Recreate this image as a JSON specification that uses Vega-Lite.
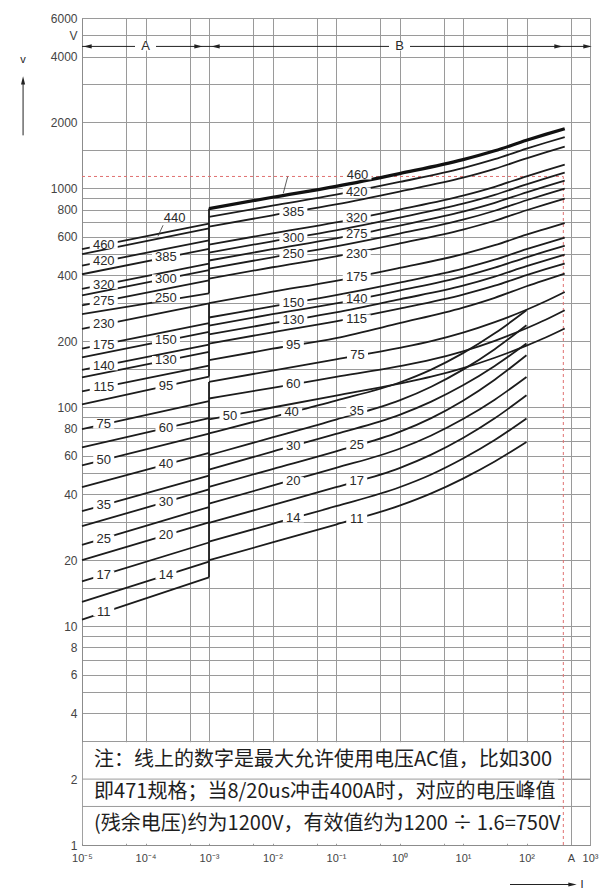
{
"$schema": "https://vega.github.io/schema/vega-lite/v6.json",
"width": 508, "height": 827,
"autosize": {"type": "none"},
"padding": {"left": 82, "top": 18, "right": 21, "bottom": 46},
"background": "white",
"config": {"view": {"stroke": "#8c8c8c", "strokeWidth": 1}, "font": "Liberation Sans"},
"datasets": {
"box": [{"I": 0.0000103, "I2": 315, "V": 1.012, "V2": 2.95}],
"hlines": [{"I": 0.00001, "I2": 1000, "V": 2}, {"I": 0.00001, "I2": 1000, "V": 1.5}],
"redh": [{"I": 0.00001, "I2": 380, "V": 1133}],
"redv": [{"I": 380, "V": 1, "V2": 1133}],
"arrowh": [{"I": 0.00001, "I2": 1000, "V": 4450}, {"I": 55, "I2": 530, "V": 0.66}],
"arrowv": [{"I": 0.00000118, "V": 1746, "V2": 3113}],
"heads": [{"d": "l", "I": 0.0000122, "V": 4450}, {"d": "r", "I": 0.000684, "V": 4450}, {"d": "l", "I": 0.001265, "V": 4450}, {"d": "r", "I": 319, "V": 4450}, {"d": "r", "I": 914, "V": 4450}, {"d": "u", "I": 0.00000118, "V": 3113}, {"d": "r", "I": 530, "V": 0.66}],
"straight": [
{"c":"A460","I":0.00001,"V":528},{"c":"A460","I":0.001,"V":689},
{"c":"A440","I":0.00001,"V":500},{"c":"A440","I":0.001,"V":657},
{"c":"A420","I":0.00001,"V":444},{"c":"A420","I":0.001,"V":579},
{"c":"A385","I":0.00001,"V":405},{"c":"A385","I":0.001,"V":529},
{"c":"A320","I":0.00001,"V":347},{"c":"A320","I":0.001,"V":453},
{"c":"A300","I":0.00001,"V":324},{"c":"A300","I":0.001,"V":423},
{"c":"A275","I":0.00001,"V":292},{"c":"A275","I":0.001,"V":380},
{"c":"A250","I":0.00001,"V":266},{"c":"A250","I":0.001,"V":331.5},
{"c":"A230","I":0.00001,"V":228},{"c":"A230","I":0.001,"V":298},
{"c":"A175","I":0.00001,"V":185},{"c":"A175","I":0.001,"V":242},
{"c":"A150","I":0.00001,"V":169},{"c":"A150","I":0.001,"V":221},
{"c":"A140","I":0.00001,"V":148},{"c":"A140","I":0.001,"V":193},
{"c":"A130","I":0.00001,"V":137},{"c":"A130","I":0.001,"V":179},
{"c":"A115","I":0.00001,"V":118},{"c":"A115","I":0.001,"V":155},
{"c":"A95","I":0.00001,"V":103},{"c":"A95","I":0.001,"V":138},
{"c":"A75","I":0.00001,"V":79.4},{"c":"A75","I":0.001,"V":106.5},
{"c":"A60","I":0.00001,"V":65.6},{"c":"A60","I":0.001,"V":89.2},
{"c":"A50","I":0.00001,"V":54.2},{"c":"A50","I":0.001,"V":75.7},
{"c":"A40","I":0.00001,"V":43.1},{"c":"A40","I":0.001,"V":61.8},
{"c":"A35","I":0.00001,"V":33.5},{"c":"A35","I":0.001,"V":48.7},
{"c":"A30","I":0.00001,"V":28.6},{"c":"A30","I":0.001,"V":42.1},
{"c":"A25","I":0.00001,"V":23.5},{"c":"A25","I":0.001,"V":35.0},
{"c":"A20","I":0.00001,"V":20.0},{"c":"A20","I":0.001,"V":29.8},
{"c":"A17","I":0.00001,"V":16.0},{"c":"A17","I":0.001,"V":24.1},
{"c":"A14","I":0.00001,"V":12.9},{"c":"A14","I":0.001,"V":19.7},
{"c":"A11","I":0.00001,"V":10.7},{"c":"A11","I":0.001,"V":16.7},
{"c":"S1","I":0.001,"V":808},{"c":"S1","I":0.001,"V":331.5},
{"c":"S2","I":0.001,"V":299},{"c":"S2","I":0.001,"V":138},
{"c":"S3","I":0.001,"V":130.5},{"c":"S3","I":0.001,"V":16.7}
],
"leaders": [
{"c":"L440","I":0.000189,"V":678},{"c":"L440","I":0.000157,"V":604},
{"c":"LB","I":0.0148,"V":950},{"c":"LB","I":0.01733,"V":1130}
],
"thick": [
{"c":"B460","I":0.001,"V":808},{"c":"B460","I":0.01,"V":910},{"c":"B460","I":0.1,"V":1021},{"c":"B460","I":1,"V":1168},{"c":"B460","I":10,"V":1352},{"c":"B460","I":31.6,"V":1484},{"c":"B460","I":100,"V":1657},{"c":"B460","I":200,"V":1764},{"c":"B460","I":400,"V":1873}
],
"curves": [
{"c":"B420","I":0.001,"V":740},{"c":"B420","I":0.01,"V":833},{"c":"B420","I":0.1,"V":935},{"c":"B420","I":1,"V":1069},{"c":"B420","I":10,"V":1238},{"c":"B420","I":31.6,"V":1359},{"c":"B420","I":100,"V":1517},{"c":"B420","I":200,"V":1615},{"c":"B420","I":400,"V":1715},
{"c":"B385","I":0.001,"V":669},{"c":"B385","I":0.01,"V":753},{"c":"B385","I":0.1,"V":845},{"c":"B385","I":1,"V":967},{"c":"B385","I":10,"V":1119},{"c":"B385","I":31.6,"V":1228},{"c":"B385","I":100,"V":1371},{"c":"B385","I":200,"V":1460},{"c":"B385","I":400,"V":1550},
{"c":"B320","I":0.001,"V":553},{"c":"B320","I":0.01,"V":623},{"c":"B320","I":0.1,"V":699},{"c":"B320","I":1,"V":800},{"c":"B320","I":10,"V":926},{"c":"B320","I":31.6,"V":1016},{"c":"B320","I":100,"V":1135},{"c":"B320","I":200,"V":1208},{"c":"B320","I":400,"V":1283},
{"c":"B300","I":0.001,"V":509},{"c":"B300","I":0.01,"V":573},{"c":"B300","I":0.1,"V":643},{"c":"B300","I":1,"V":735},{"c":"B300","I":10,"V":851},{"c":"B300","I":31.6,"V":934},{"c":"B300","I":100,"V":1043},{"c":"B300","I":200,"V":1111},{"c":"B300","I":400,"V":1179},
{"c":"B275","I":0.001,"V":468},{"c":"B275","I":0.01,"V":527},{"c":"B275","I":0.1,"V":591},{"c":"B275","I":1,"V":676},{"c":"B275","I":10,"V":783},{"c":"B275","I":31.6,"V":859},{"c":"B275","I":100,"V":959},{"c":"B275","I":200,"V":1021},{"c":"B275","I":400,"V":1084},
{"c":"B250","I":0.001,"V":430},{"c":"B250","I":0.01,"V":484},{"c":"B250","I":0.1,"V":543},{"c":"B250","I":1,"V":621},{"c":"B250","I":10,"V":719},{"c":"B250","I":31.6,"V":790},{"c":"B250","I":100,"V":882},{"c":"B250","I":200,"V":939},{"c":"B250","I":400,"V":997},
{"c":"B230","I":0.001,"V":387},{"c":"B230","I":0.01,"V":436},{"c":"B230","I":0.1,"V":489},{"c":"B230","I":1,"V":560},{"c":"B230","I":10,"V":648},{"c":"B230","I":31.6,"V":711},{"c":"B230","I":100,"V":794},{"c":"B230","I":200,"V":845},{"c":"B230","I":400,"V":897},
{"c":"B175","I":0.001,"V":299},{"c":"B175","I":0.01,"V":337},{"c":"B175","I":0.1,"V":378},{"c":"B175","I":1,"V":433},{"c":"B175","I":10,"V":501},{"c":"B175","I":31.6,"V":550},{"c":"B175","I":100,"V":614},{"c":"B175","I":200,"V":653},{"c":"B175","I":400,"V":694},
{"c":"B150","I":0.001,"V":257},{"c":"B150","I":0.01,"V":289},{"c":"B150","I":0.1,"V":325},{"c":"B150","I":1,"V":371},{"c":"B150","I":10,"V":430},{"c":"B150","I":31.6,"V":472},{"c":"B150","I":100,"V":527},{"c":"B150","I":200,"V":561},{"c":"B150","I":400,"V":596},
{"c":"B140","I":0.001,"V":236},{"c":"B140","I":0.01,"V":266},{"c":"B140","I":0.1,"V":298},{"c":"B140","I":1,"V":341},{"c":"B140","I":10,"V":395},{"c":"B140","I":31.6,"V":434},{"c":"B140","I":100,"V":484},{"c":"B140","I":200,"V":515},{"c":"B140","I":400,"V":547},
{"c":"B130","I":0.001,"V":215},{"c":"B130","I":0.01,"V":242},{"c":"B130","I":0.1,"V":271},{"c":"B130","I":1,"V":311},{"c":"B130","I":10,"V":359},{"c":"B130","I":31.6,"V":395},{"c":"B130","I":100,"V":441},{"c":"B130","I":200,"V":469},{"c":"B130","I":400,"V":498},
{"c":"B115","I":0.001,"V":195},{"c":"B115","I":0.01,"V":220},{"c":"B115","I":0.1,"V":247},{"c":"B115","I":1,"V":282},{"c":"B115","I":10,"V":327},{"c":"B115","I":31.6,"V":359},{"c":"B115","I":100,"V":401},{"c":"B115","I":200,"V":427},{"c":"B115","I":400,"V":453},
{"c":"B95","I":0.001,"V":164},{"c":"B95","I":0.01,"V":185},{"c":"B95","I":0.1,"V":207},{"c":"B95","I":1,"V":242},{"c":"B95","I":10,"V":285},{"c":"B95","I":31.6,"V":316},{"c":"B95","I":100,"V":357},{"c":"B95","I":200,"V":382},{"c":"B95","I":400,"V":408},
{"c":"B75","I":0.001,"V":130.5},{"c":"B75","I":0.01,"V":147.1},{"c":"B75","I":0.1,"V":165.6},{"c":"B75","I":1,"V":186.7},{"c":"B75","I":3.16,"V":200.4},{"c":"B75","I":10,"V":219.1},{"c":"B75","I":31.6,"V":244.7},{"c":"B75","I":100,"V":278.7},{"c":"B75","I":200,"V":304.8},{"c":"B75","I":400,"V":336.1},
{"c":"B60","I":0.001,"V":109.6},{"c":"B60","I":0.01,"V":122.7},{"c":"B60","I":0.1,"V":137.5},{"c":"B60","I":1,"V":154.0},{"c":"B60","I":3.16,"V":164.8},{"c":"B60","I":10,"V":180.0},{"c":"B60","I":31.6,"V":201.0},{"c":"B60","I":100,"V":229.5},{"c":"B60","I":200,"V":250.9},{"c":"B60","I":400,"V":277.3},
{"c":"B50","I":0.001,"V":87.9},{"c":"B50","I":0.01,"V":99.7},{"c":"B50","I":0.1,"V":113.1},{"c":"B50","I":1,"V":128.3},{"c":"B50","I":3.16,"V":137.8},{"c":"B50","I":10,"V":150.8},{"c":"B50","I":31.6,"V":168.3},{"c":"B50","I":100,"V":191.1},{"c":"B50","I":200,"V":208.1},{"c":"B50","I":400,"V":228.8},
{"c":"B40","I":0.001,"V":75.9},{"c":"B40","I":0.01,"V":90.2},{"c":"B40","I":0.1,"V":107.3},{"c":"B40","I":1,"V":129.7},{"c":"B40","I":3.16,"V":148.6},{"c":"B40","I":10,"V":176.6},{"c":"B40","I":31.6,"V":217.5},{"c":"B40","I":100,"V":277.3},
{"c":"B35","I":0.001,"V":60.4},{"c":"B35","I":0.01,"V":72.8},{"c":"B35","I":0.1,"V":87.8},{"c":"B35","I":1,"V":107.4},{"c":"B35","I":3.16,"V":124.1},{"c":"B35","I":10,"V":148.5},{"c":"B35","I":31.6,"V":184.2},{"c":"B35","I":100,"V":236.8},
{"c":"B30","I":0.001,"V":51.9},{"c":"B30","I":0.01,"V":62.7},{"c":"B30","I":0.1,"V":75.5},{"c":"B30","I":1,"V":92.3},{"c":"B30","I":3.16,"V":106.1},{"c":"B30","I":10,"V":125.9},{"c":"B30","I":31.6,"V":154.4},{"c":"B30","I":100,"V":195.4},
{"c":"B25","I":0.001,"V":43.3},{"c":"B25","I":0.01,"V":52.2},{"c":"B25","I":0.1,"V":62.9},{"c":"B25","I":1,"V":77.1},{"c":"B25","I":3.16,"V":89.2},{"c":"B25","I":10,"V":107.1},{"c":"B25","I":31.6,"V":133.6},{"c":"B25","I":100,"V":172.8},
{"c":"B20","I":0.001,"V":36.3},{"c":"B20","I":0.01,"V":43.8},{"c":"B20","I":0.1,"V":52.8},{"c":"B20","I":1,"V":64.6},{"c":"B20","I":3.16,"V":74.3},{"c":"B20","I":10,"V":88.3},{"c":"B20","I":31.6,"V":108.3},{"c":"B20","I":100,"V":137.5},
{"c":"B17","I":0.001,"V":29.6},{"c":"B17","I":0.01,"V":35.7},{"c":"B17","I":0.1,"V":43.1},{"c":"B17","I":1,"V":52.7},{"c":"B17","I":3.16,"V":60.7},{"c":"B17","I":10,"V":72.3},{"c":"B17","I":31.6,"V":89.0},{"c":"B17","I":100,"V":113.4},
{"c":"B14","I":0.001,"V":24.3},{"c":"B14","I":0.01,"V":29.3},{"c":"B14","I":0.1,"V":35.3},{"c":"B14","I":1,"V":43.1},{"c":"B14","I":3.16,"V":49.3},{"c":"B14","I":10,"V":58.3},{"c":"B14","I":31.6,"V":70.8},{"c":"B14","I":100,"V":88.8},
{"c":"B11","I":0.001,"V":20.0},{"c":"B11","I":0.01,"V":24.1},{"c":"B11","I":0.1,"V":29.1},{"c":"B11","I":1,"V":35.5},{"c":"B11","I":3.16,"V":40.4},{"c":"B11","I":10,"V":47.2},{"c":"B11","I":31.6,"V":56.5},{"c":"B11","I":100,"V":69.4}
],
"labels": [
{"label":"460","I":0.000022,"V":553},{"label":"420","I":0.000022,"V":464},{"label":"320","I":0.000022,"V":363},{"label":"275","I":0.000022,"V":305},{"label":"230","I":0.000022,"V":239},{"label":"175","I":0.000022,"V":193},{"label":"140","I":0.000022,"V":154},{"label":"115","I":0.000022,"V":124},{"label":"75","I":0.000022,"V":83.4},{"label":"50","I":0.000022,"V":57.3},{"label":"35","I":0.000022,"V":35.7},{"label":"25","I":0.000022,"V":25.1},{"label":"17","I":0.000022,"V":17.1},{"label":"11","I":0.000022,"V":11.6},
{"label":"440","I":0.000288,"V":732},{"label":"385","I":0.00021,"V":486},{"label":"300","I":0.00021,"V":387},{"label":"250","I":0.00021,"V":315},{"label":"150","I":0.00021,"V":202},{"label":"130","I":0.00021,"V":164},{"label":"95","I":0.00021,"V":125},{"label":"60","I":0.00021,"V":80.4},{"label":"40","I":0.00021,"V":54.8},{"label":"30","I":0.00021,"V":36.9},{"label":"20","I":0.00021,"V":26.0},{"label":"14","I":0.00021,"V":17.1},
{"label":"460","I":0.218,"V":1147},{"label":"420","I":0.212,"V":965},{"label":"385","I":0.0213,"V":782},{"label":"320","I":0.212,"V":730},{"label":"300","I":0.0213,"V":595},{"label":"275","I":0.212,"V":617},{"label":"250","I":0.0213,"V":503},{"label":"230","I":0.212,"V":500},{"label":"175","I":0.212,"V":395},{"label":"150","I":0.0213,"V":300},{"label":"140","I":0.212,"V":312},{"label":"130","I":0.0213,"V":251},{"label":"115","I":0.212,"V":254},{"label":"95","I":0.0213,"V":191.7},{"label":"75","I":0.218,"V":172.8},{"label":"60","I":0.0213,"V":127.4},{"label":"50","I":0.00214,"V":91.6},{"label":"40","I":0.02,"V":95.1},{"label":"35","I":0.212,"V":95.9},{"label":"30","I":0.0213,"V":66.6},{"label":"25","I":0.212,"V":66.9},{"label":"20","I":0.0213,"V":45.9},{"label":"17","I":0.212,"V":45.8},{"label":"14","I":0.0213,"V":31.1},{"label":"11","I":0.212,"V":30.9},
{"label":"A","I":0.0001,"V":4450},{"label":"B","I":1,"V":4450}
],
"note": [
{"t":"注：线上的数字是最大允许使用电压AC值，比如300","I":0.0000155,"V":2.444},
{"t":"即471规格；当8/20us冲击400A时，对应的电压峰值","I":0.0000155,"V":1.746},
{"t":"(残余电压)约为1200V，有效值约为1200 ÷ 1.6=750V","I":0.0000155,"V":1.247}
],
"misc": [{"t":"v","I":0.00000118,"V":3842},{"t":"I","I":748,"V":0.66}]
},
"encoding": {
"x": {"field": "I", "type": "quantitative",
 "scale": {"type": "log", "domain": [0.00001, 1000], "nice": false, "zero": false},
 "axis": {"title": null, "values": [0.00001,0.00005,0.0001,0.0005,0.001,0.005,0.01,0.05,0.1,0.5,1,5,10,50,100,500,1000],
  "grid": true, "gridColor": "#9a9a9a", "gridWidth": 1, "gridOpacity": 1, "ticks": false, "domainColor": "#8c8c8c",
  "labelExpr": "datum.value > 400 && datum.value < 600 ? 'A' : (abs(log(datum.value)/LN10 - round(log(datum.value)/LN10)) < 0.01 ? ['10⁻⁵','10⁻⁴','10⁻³','10⁻²','10⁻¹','10⁰','10¹','10²','10³'][round(log(datum.value)/LN10) + 5] : '')",
  "labelFont": "Liberation Sans", "labelFontSize": 11, "labelColor": "#444", "labelPadding": 7, "labelOverlap": false, "labelFlush": false, "labelBound": false}},
"y": {"field": "V", "type": "quantitative",
 "scale": {"type": "log", "domain": [1, 6000], "nice": false, "zero": false},
 "axis": {"title": null, "values": [1,1.5,2,3,4,5,6,7,8,9,10,15,20,30,40,50,60,70,80,90,100,150,200,300,400,500,600,700,800,900,1000,1500,2000,3000,4000,5000,6000],
  "grid": true, "gridColor": "#9a9a9a", "gridWidth": 1, "gridOpacity": 1, "ticks": false, "domainColor": "#8c8c8c",
  "labelExpr": "datum.value == 5000 ? 'V' : (indexof([1,2,4,6,8,10,20,40,60,80,100,200,400,600,800,1000,2000,4000,6000], datum.value) >= 0 ? toString(datum.value) : '')",
  "labelFont": "Liberation Sans", "labelFontSize": 12, "labelColor": "#444", "labelPadding": 5, "labelOverlap": false, "labelFlush": false, "labelBound": false}}
},
"layer": [
{"data": {"name": "box"}, "mark": {"type": "rect", "fill": "white", "strokeWidth": 0}, "encoding": {"x2": {"field": "I2"}, "y2": {"field": "V2"}}},
{"data": {"name": "hlines"}, "mark": {"type": "rule", "color": "#9a9a9a", "strokeWidth": 1}, "encoding": {"x2": {"field": "I2"}}},
{"data": {"name": "redh"}, "mark": {"type": "rule", "color": "#e07070", "strokeWidth": 1, "strokeDash": [3, 3]}, "encoding": {"x2": {"field": "I2"}}},
{"data": {"name": "redv"}, "mark": {"type": "rule", "color": "#e07070", "strokeWidth": 1, "strokeDash": [3, 3]}, "encoding": {"y2": {"field": "V2"}}},
{"data": {"name": "arrowh"}, "mark": {"type": "rule", "color": "#222", "strokeWidth": 1}, "encoding": {"x2": {"field": "I2"}}},
{"data": {"name": "arrowv"}, "mark": {"type": "rule", "color": "#222", "strokeWidth": 1}, "encoding": {"y2": {"field": "V2"}}},
{"data": {"name": "straight"}, "mark": {"type": "line", "color": "#1c1c1c", "strokeWidth": 1.8}, "encoding": {"detail": {"field": "c"}}},
{"data": {"name": "leaders"}, "mark": {"type": "line", "color": "#333", "strokeWidth": 0.8}, "encoding": {"detail": {"field": "c"}}},
{"data": {"name": "curves"}, "mark": {"type": "line", "interpolate": "monotone", "color": "#1c1c1c", "strokeWidth": 1.8}, "encoding": {"detail": {"field": "c"}}},
{"data": {"name": "thick"}, "mark": {"type": "line", "interpolate": "monotone", "color": "#111", "strokeWidth": 3.2}, "encoding": {"detail": {"field": "c"}}},
{"data": {"name": "heads"}, "mark": {"type": "point", "filled": true, "color": "#222", "opacity": 1, "size": 70, "strokeWidth": 0},
 "encoding": {"shape": {"field": "d", "type": "nominal", "legend": null, "scale": {"domain": ["l", "r", "u"], "range": ["M-1,0L1,-0.5L1,0.5Z", "M1,0L-1,-0.5L-1,0.5Z", "M0,-1L-0.5,1L0.5,1Z"]}}}},
{"data": {"name": "labels"}, "transform": [{"filter": "length(datum.label) >= 3"}], "mark": {"type": "point", "shape": "M-1,-0.3H1V0.3H-1Z", "filled": true, "color": "white", "opacity": 1, "size": 784, "strokeWidth": 0}},
{"data": {"name": "labels"}, "transform": [{"filter": "length(datum.label) < 3"}], "mark": {"type": "point", "shape": "M-1,-0.4H1V0.4H-1Z", "filled": true, "color": "white", "opacity": 1, "size": 441, "strokeWidth": 0}},
{"data": {"name": "labels"}, "mark": {"type": "text", "font": "Liberation Sans", "fontSize": 13, "color": "#2a2a2a", "align": "center", "baseline": "middle"}, "encoding": {"text": {"field": "label"}}},
{"data": {"name": "note"}, "mark": {"type": "text", "font": "Noto Sans CJK SC", "fontSize": 20, "color": "#1e1e1e", "align": "left", "baseline": "middle"}, "encoding": {"text": {"field": "t"}}},
{"data": {"name": "misc"}, "mark": {"type": "text", "font": "Liberation Sans", "fontSize": 11, "color": "#222", "align": "center", "baseline": "middle"}, "encoding": {"text": {"field": "t"}}}
]
}
